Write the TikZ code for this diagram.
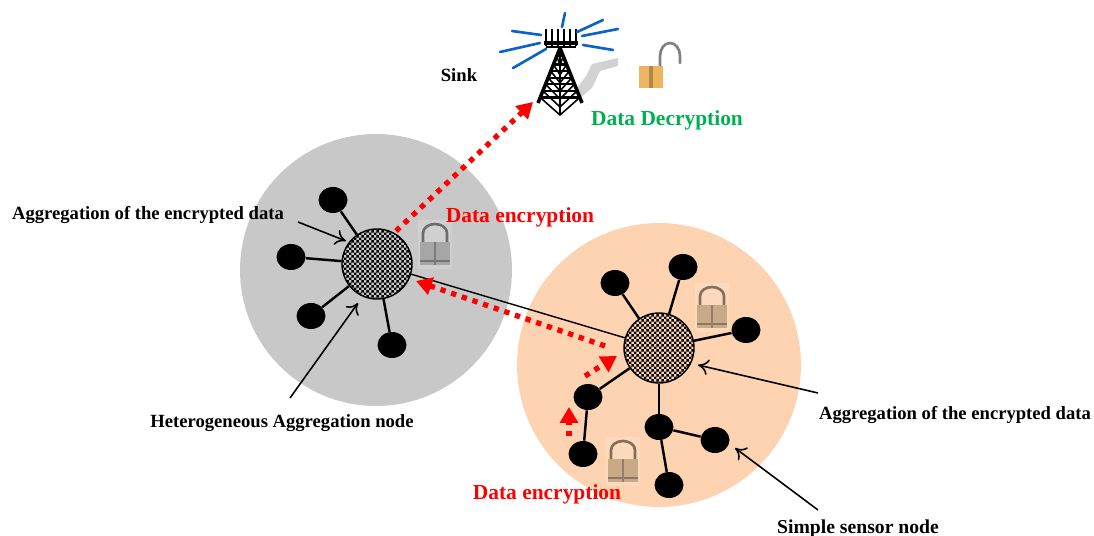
\documentclass[tikz,border=0pt]{standalone}
\usepackage{fontspec}
\setmainfont{Liberation Serif}
\usetikzlibrary{patterns,shapes.geometric,arrows.meta,calc}

\definecolor{graydisc}{HTML}{C8C8C8}
\definecolor{orangedisc}{HTML}{FDD3B2}
\definecolor{graylock}{HTML}{A6A6A6}
\definecolor{tanlock}{HTML}{C9A988}
\definecolor{openlock}{HTML}{EDB55F}
\definecolor{decryptgreen}{HTML}{00B050}
\definecolor{raysblue}{HTML}{0B63C8}

\pgfdeclarepatternformonly{finecheck}{\pgfpointorigin}{\pgfqpoint{2.8pt}{2.8pt}}{\pgfqpoint{2.8pt}{2.8pt}}{
  \pgfpathrectangle{\pgfpointorigin}{\pgfqpoint{1.4pt}{1.4pt}}
  \pgfpathrectangle{\pgfqpoint{1.4pt}{1.4pt}}{\pgfqpoint{1.4pt}{1.4pt}}
  \pgfusepath{fill}
}

\tikzset{
  sensor/.style={draw=none, fill=black, ellipse, inner sep=0pt, minimum width=0.58cm, minimum height=0.52cm},
  hub/.style={draw=black, thick, circle, inner sep=0pt, minimum size=1.4cm, pattern=finecheck},
  disc/.style={circle, inner sep=0pt},
  link/.style={line width=1.4pt},
  pointer/.style={line width=0.9pt, -{To[length=6pt,width=9pt]}},
  flow/.style={red, line width=3pt, dash pattern=on 3pt off 3.4pt, -{Triangle[length=9pt,width=10pt]}},
  caption/.style={font=\bfseries\fontsize{10.6}{12}\selectfont, inner sep=0pt},
  redcaption/.style={caption, red, font=\bfseries\fontsize{12.2}{14}\selectfont},
  pics/padlock/.style={code={
      \fill[white, opacity=0.15] (-17,4) rectangle (17,-45);
      \draw[#1!65!black, line width=1.5pt] (-12,-22) -- (-12,-32) arc (180:360:12 and 9) -- (12,-22);
      \fill[#1] (-15,0) rectangle (15,-23);
      \fill[#1!70!black] (-15,-5) rectangle (15,-3);
      \fill[#1!75!black] (-1,0) rectangle (1,-23);
  }}
}

\begin{document}
\begin{tikzpicture}[x=0.02cm,y=-0.02cm]
  \useasboundingbox (0,0) rectangle (1094,536);

  \node [disc, fill=graydisc, minimum size=5.44cm] (graycell) at (376,270) {};
  \node [disc, fill=orangedisc, minimum size=5.68cm] (orangecell) at (659,365) {};

  % gray cluster
  \node [hub] (H1) at (377,264) {};
  \node [sensor] (G1) at (333,200) {};
  \node [sensor] (G2) at (291,257) {};
  \node [sensor] (G3) at (311,316) {};
  \node [sensor] (G4) at (392,345) {};

  % orange cluster
  \node [hub] (H2) at (659,348) {};
  \node [sensor] (S1) at (615,283) {};
  \node [sensor] (S2) at (683,267) {};
  \node [sensor] (S3) at (746,330) {};
  \node [sensor] (S4) at (588,397) {};
  \node [sensor] (S5) at (583,454) {};
  \node [sensor] (S6) at (659,427) {};
  \node [sensor] (S7) at (715,440) {};
  \node [sensor] (S8) at (669,485) {};

  \foreach \n in {G1,G2,G3,G4}
    \draw[link] (H1) -- (\n);
  \foreach \n in {S1,S2,S3,S4,S6}
    \draw[link] (H2) -- (\n);
  \draw[link] (S4) -- (S5);
  \draw[link] (S6) -- (S7);
  \draw[link] (S6) -- (S8);
  \draw[line width=0.8pt] (H1) -- (H2);

  % locks
  \pic at (435,265) {padlock=graylock};
  \pic at (712,328) {padlock=tanlock};
  \pic at (623,482) {padlock=tanlock};

  % tower
  \coordinate (top) at (560,48);
  \coordinate (legL) at (538,103);
  \coordinate (legR) at (582,103);
  \coordinate (foot) at (560,115);
  \fill[gray!35] (574,92) -- (586,76) -- (592,64) -- (618,58) -- (618,66) -- (600,71) -- (592,88) -- (580,98) -- cycle;
  \draw[line width=2pt] (top) -- (legL);
  \draw[line width=2pt] (top) -- (legR);
  \draw[line width=1.6pt] (top) -- (foot);
  \foreach \t in {0.15,0.3,0.42,0.54,0.66,0.78,0.9}{
    \draw[line width=1.2pt] ($(top)!\t!(legL)$) -- ($(top)!\t!(legR)$);
    \draw[line width=0.9pt] ($(top)!\t!(legL)$) -- ($(top)!\t+0.1!(foot)$) -- ($(top)!\t!(legR)$);
  }
  \draw[line width=2.4pt] (544,43) -- (578,43);
  \draw[line width=1.2pt] (546,47) -- (576,47);
  \foreach \x in {546,552,558,564,570,576}
    \draw[line width=1.5pt] (\x,46) -- (\x,29);
  \foreach \a/\b/\c/\d in {512/31/541/35, 500/52/540/43, 513/68/546/49, 565/13/562/27, 577/32/603/20, 582/36/618/29, 583/45/613/50}
    \draw[raysblue, line width=1.5pt, line cap=round] (\a,\b) -- (\c,\d);

  % open lock
  \draw[gray, line width=1.5pt, line cap=round] (660,66) -- (660,56) arc (180:360:10 and 13) -- (680,63);
  \fill[openlock] (639,66) rectangle (663,88);
  \fill[openlock!75!black] (649,66) rectangle (653,88);

  % red arrows
  \coordinate (up1) at (396,231);
  \coordinate (up2) at (533,102);
  \coordinate (back1) at (605,346);
  \coordinate (back2) at (416,281);
  \coordinate (mid1) at (585,376);
  \coordinate (mid2) at (617,356);
  \coordinate (low1) at (569,436);
  \coordinate (low2) at (569,407);
  \draw[flow] (up1) -- (up2);
  \draw[flow] (back1) -- (back2);
  \draw[flow] (mid1) -- (mid2);
  \draw[flow] (low1) -- (low2);

  % labels
  \node [caption] (sink) at (459,75) {Sink};
  \node [caption, decryptgreen, font=\bfseries\fontsize{12.2}{14}\selectfont] (decrypt) at (667,120) {Data Decryption};
  \node [redcaption] (enc1) at (520,217) {Data encryption};
  \node [redcaption] (enc2) at (547,494) {Data encryption};
  \node [caption] (agg1) at (148,215) {Aggregation of the encrypted data};
  \node [caption] (agg2) at (955,415) {Aggregation of the encrypted data};
  \node [caption] (hetero) at (282,423) {Heterogeneous Aggregation node};
  \node [caption, font=\bfseries\fontsize{11.2}{13}\selectfont] (simple) at (858,529) {Simple sensor node};

  % thin pointers
  \coordinate (p1) at (298,222);
  \coordinate (p2) at (346,241);
  \coordinate (p3) at (290,398);
  \coordinate (p4) at (358,303);
  \coordinate (p5) at (818,393);
  \coordinate (p6) at (698,365);
  \coordinate (p7) at (818,510);
  \coordinate (p8) at (735,448);
  \draw[pointer] (p1) -- (p2);
  \draw[pointer] (p3) -- (p4);
  \draw[pointer] (p5) -- (p6);
  \draw[pointer] (p7) -- (p8);
\end{tikzpicture}
\end{document}
